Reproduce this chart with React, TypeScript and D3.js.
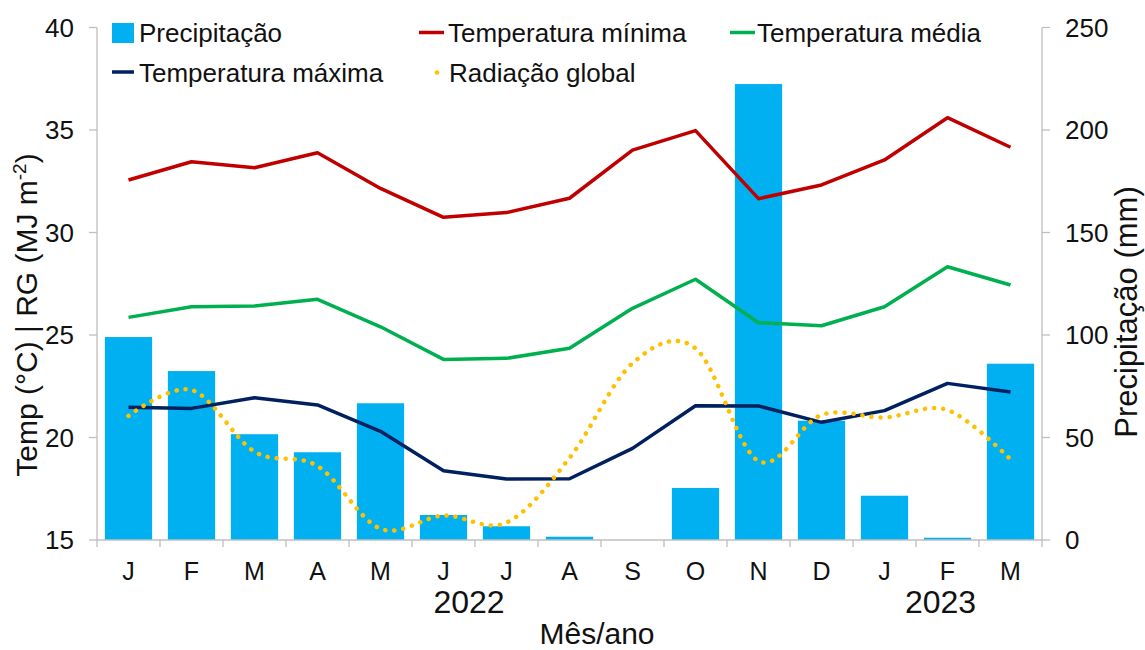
import React from 'react';
import * as d3 from 'd3';

// Monthly climate series, Jan/2022 – Mar/2023
const months = ['J', 'F', 'M', 'A', 'M', 'J', 'J', 'A', 'S', 'O', 'N', 'D', 'J', 'F', 'M'];
const precipitacao = [99, 82.4, 51.6, 42.8, 66.7, 12.2, 6.7, 1.6, 0, 25.4, 222.4, 58.2, 21.6, 1.1, 86.0];
const temperaturaMinima = [32.56, 33.45, 33.16, 33.89, 32.15, 30.74, 30.97, 31.67, 34.02, 34.97, 31.65, 32.32, 33.54, 35.6, 34.16];
const temperaturaMedia = [25.86, 26.38, 26.41, 26.74, 25.4, 23.81, 23.86, 24.35, 26.3, 27.72, 25.6, 25.45, 26.38, 28.33, 27.44];
const temperaturaMaxima = [21.47, 21.42, 21.94, 21.59, 20.3, 18.38, 17.98, 17.99, 19.47, 21.55, 21.54, 20.74, 21.31, 22.64, 22.22];
const radiacaoGlobal = [21.05, 22.32, 19.31, 18.61, 15.55, 16.19, 15.85, 19.0, 23.62, 24.35, 18.85, 21.1, 20.98, 21.34, 18.93];
const leftTicks = [15, 20, 25, 30, 35, 40];
const rightTicks = [0, 50, 100, 150, 200, 250];
const yearLabels = ['2022', '2023'];

const W = 1145;
const H = 650;
const plot = { left: 97, right: 1042, top: 27.5, bottom: 540 };
const FONT = "'Liberation Sans', Arial, Helvetica, sans-serif";
const AXIS = '#BFBFBF';
const TEXT = '#111';

const COLORS = {
  bar: '#00B0F0',
  minima: '#C00000',
  media: '#00B050',
  maxima: '#002060',
  radiacao: '#FFC000',
};

export default function App() {
  const idx = months.map((_, i) => String(i));
  const x = d3
    .scaleBand<string>()
    .domain(idx)
    .range([plot.left, plot.right])
    .paddingInner(0.25)
    .paddingOuter(0.125);
  const step = x.step();
  const x0 = plot.left;
  const cx = (i: number) => (x(String(i)) as number) + x.bandwidth() / 2;

  const yL = d3.scaleLinear().domain([15, 40]).range([plot.bottom, plot.top]);
  const yR = d3.scaleLinear().domain([0, 250]).range([plot.bottom, plot.top]);

  const straight = d3
    .line<number>()
    .x((_, i) => cx(i))
    .y((d) => yL(d));
  const smooth = d3
    .line<number>()
    .x((_, i) => cx(i))
    .y((d) => yL(d))
    .curve(d3.curveCardinal.tension(0));

  const boundaries = d3.range(months.length + 1).map((i) => x0 + i * step);

  const yearX = [x0 + step * 6 - 6, x0 + step * 13.5 - 7];

  return (
    <svg
      width={W}
      height={H}
      viewBox={`0 0 ${W} ${H}`}
      style={{ position: 'absolute', left: 0, top: 0, background: '#fff' }}
      fontFamily={FONT}
    >
      {/* precipitation bars on the right axis */}
      <g>
        {precipitacao.map((v, i) => (
          <rect
            key={i}
            x={x(String(i))}
            y={yR(v)}
            width={x.bandwidth()}
            height={Math.max(0, plot.bottom - yR(v))}
            fill={COLORS.bar}
          />
        ))}
      </g>

      {/* axes */}
      <g stroke={AXIS} strokeWidth={1.3} fill="none">
        <line x1={plot.left} x2={plot.left} y1={plot.top} y2={plot.bottom} />
        <line x1={plot.right} x2={plot.right} y1={plot.top} y2={plot.bottom} />
        <line x1={plot.left} x2={plot.right} y1={plot.bottom} y2={plot.bottom} />
        {leftTicks.map((t) => (
          <line key={'l' + t} x1={plot.left - 8} x2={plot.left} y1={yL(t)} y2={yL(t)} />
        ))}
        {rightTicks.map((t) => (
          <line key={'r' + t} x1={plot.right} x2={plot.right + 8} y1={yR(t)} y2={yR(t)} />
        ))}
        {boundaries.map((b, i) => (
          <line key={'b' + i} x1={b} x2={b} y1={plot.bottom} y2={plot.bottom + 7} />
        ))}
      </g>

      {/* temperature and radiation series */}
      <g fill="none" strokeLinejoin="round">
        <path d={straight(temperaturaMinima) || ''} stroke={COLORS.minima} strokeWidth={3.5} />
        <path d={straight(temperaturaMedia) || ''} stroke={COLORS.media} strokeWidth={3.5} />
        <path d={straight(temperaturaMaxima) || ''} stroke={COLORS.maxima} strokeWidth={3.5} />
        <path
          d={smooth(radiacaoGlobal) || ''}
          stroke={COLORS.radiacao}
          strokeWidth={4.5}
          strokeDasharray="0.1 9"
          strokeLinecap="round"
        />
      </g>

      {/* tick labels */}
      <g fill={TEXT} fontSize={26}>
        {leftTicks.map((t) => (
          <text key={'lt' + t} x={plot.left - 23} y={yL(t)} dy="0.35em" textAnchor="end">
            {t}
          </text>
        ))}
        {rightTicks.map((t) => (
          <text key={'rt' + t} x={plot.right + 23} y={yR(t)} dy="0.35em" textAnchor="start">
            {t}
          </text>
        ))}
      </g>
      <g fill={TEXT} fontSize={25}>
        {months.map((m, i) => (
          <text key={'m' + i} x={cx(i)} y={580} textAnchor="middle">
            {m}
          </text>
        ))}
      </g>
      <g fill={TEXT} fontSize={32}>
        {yearLabels.map((yl, i) => (
          <text key={yl} x={yearX[i]} y={613} textAnchor="middle">
            {yl}
          </text>
        ))}
      </g>

      {/* axis titles */}
      <text x={597} y={644} textAnchor="middle" fontSize={30} fill={TEXT}>
        Mês/ano
      </text>
      <text
        transform="translate(37,315) rotate(-90)"
        textAnchor="middle"
        fontSize={30}
        fill={TEXT}
      >
        Temp (°C) | RG (MJ m<tspan fontSize={19} dy={-11}>-2</tspan>
        <tspan dy={11}>)</tspan>
      </text>
      <text
        transform="translate(1137,312) rotate(-90)"
        textAnchor="middle"
        fontSize={31}
        fill={TEXT}
      >
        Precipitação (mm)
      </text>

      {/* legend */}
      <g fontSize={26} fill={TEXT}>
        <rect x={112} y={23} width={22} height={20} fill={COLORS.bar} />
        <text x={139} y={42}>Precipitação</text>

        <line x1={419} x2={444} y1={32.5} y2={32.5} stroke={COLORS.minima} strokeWidth={3.5} />
        <text x={448} y={42}>Temperatura mínima</text>

        <line x1={730} x2={755} y1={32.5} y2={32.5} stroke={COLORS.media} strokeWidth={3.5} />
        <text x={757} y={42}>Temperatura média</text>

        <line x1={112} x2={134} y1={72} y2={72} stroke={COLORS.maxima} strokeWidth={3.5} />
        <text x={139} y={82}>Temperatura máxima</text>

        <circle cx={437} cy={72.5} r={2.3} fill={COLORS.radiacao} />
        <text x={449} y={82}>Radiação global</text>
      </g>
    </svg>
  );
}
